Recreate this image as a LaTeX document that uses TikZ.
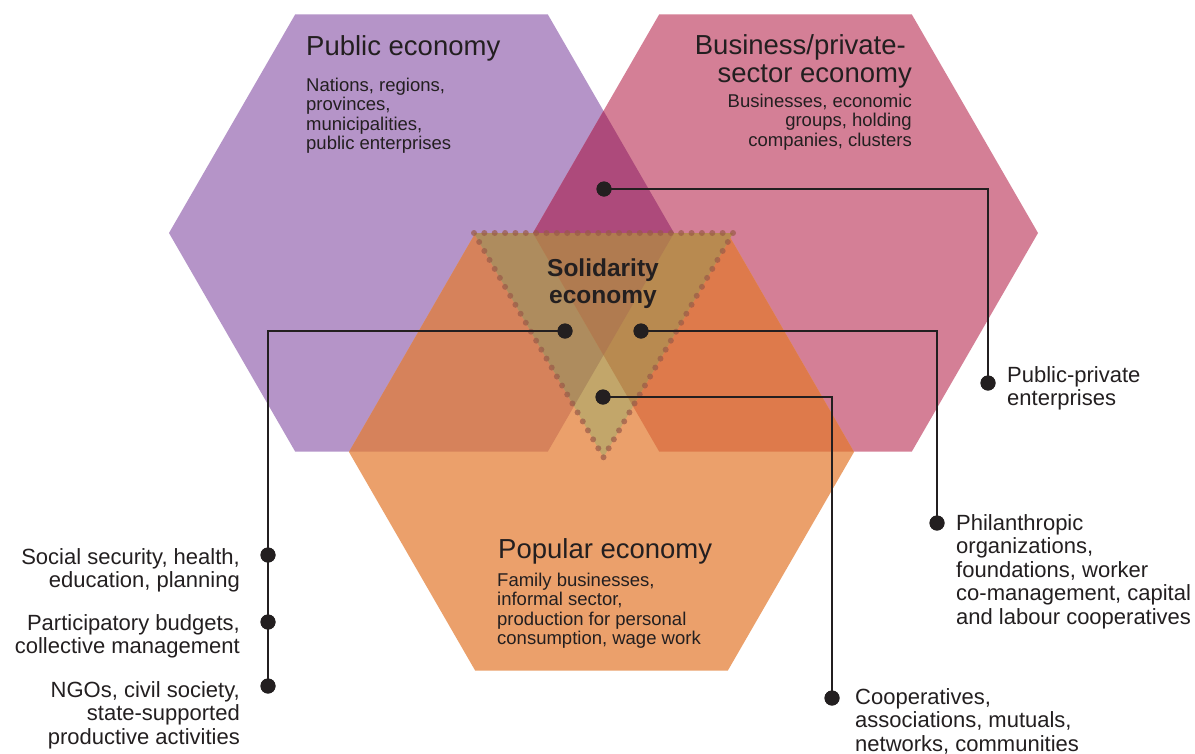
\documentclass[tikz,border=0pt]{standalone}
\usepackage{fontspec}
\setmainfont{Liberation Sans}
\definecolor{cP}{HTML}{B594C8}
\definecolor{cB}{HTML}{D47F96}
\definecolor{cO}{HTML}{EBA06B}
\definecolor{cPB}{HTML}{AD4A7B}
\definecolor{cPO}{HTML}{D6825B}
\definecolor{cBO}{HTML}{DE7A4B}
\definecolor{tO}{HTML}{C2A66A}
\definecolor{tPO}{HTML}{AE8C5E}
\definecolor{tBO}{HTML}{B88A50}
\definecolor{tPBO}{HTML}{B07B50}
\definecolor{dotc}{HTML}{9A5A48}
\definecolor{ink}{HTML}{231F20}
\newcommand\hexat[2]{(#1-252.5,#2) -- (#1-126.25,#2-218.7) -- (#1+126.25,#2-218.7) -- (#1+252.5,#2) -- (#1+126.25,#2+218.7) -- (#1-126.25,#2+218.7) -- cycle}
\newcommand\soltri{(474,233) -- (733,233) -- (603.5,457.3) -- cycle}
\begin{document}
\begin{tikzpicture}[x=1pt,y=-1pt,
  conn/.style={draw=ink,line width=2pt},
  blob/.style={circle,fill=ink,inner sep=0pt,minimum size=15pt},
  head/.style={inner sep=0pt,text=ink,font=\fontsize{27.5}{28.5}\selectfont},
  hbody/.style={inner sep=0pt,text=ink,font=\fontsize{18.5}{19.5}\selectfont},
  lab/.style={inner sep=0pt,text=ink,font=\fontsize{22}{23.5}\selectfont},
  dotline/.style={draw=dotc,draw opacity=0.7,line width=6pt,line cap=round,dash pattern=on 0pt off 10.36pt}]
\useasboundingbox (0,0) rectangle (1195,753);
\fill[white] (0,0) rectangle (1195,753);
% hexagons
\fill[cP] \hexat{421.5}{233};
\fill[cB] \hexat{785.5}{233};
\fill[cO] \hexat{601.5}{452};
\begin{scope}
  \clip \hexat{421.5}{233};
  \fill[cPB] \hexat{785.5}{233};
  \fill[cPO] \hexat{601.5}{452};
\end{scope}
\begin{scope}
  \clip \hexat{785.5}{233};
  \fill[cBO] \hexat{601.5}{452};
\end{scope}
% solidarity triangle
\begin{scope}
  \clip \soltri;
  \fill[tO] (0,0) rectangle (1195,753);
  \begin{scope}
    \clip \hexat{421.5}{233};
    \fill[tPO] (0,0) rectangle (1195,753);
  \end{scope}
  \begin{scope}
    \clip \hexat{785.5}{233};
    \fill[tBO] (0,0) rectangle (1195,753);
    \clip \hexat{421.5}{233};
    \fill[tPBO] (0,0) rectangle (1195,753);
  \end{scope}
\end{scope}
\draw[dotline] \soltri;
% texts in hexagons
\node[head,anchor=north west] (tpub) at (306,35) {Public economy};
\node[hbody,anchor=north west,align=left] (tpubb) at (306,77.5) {Nations, regions,\\provinces,\\municipalities,\\public enterprises};
\node[head,anchor=north east,align=right] (tbus) at (912,34) {Business/private-\hspace*{6pt}\\sector economy};
\node[hbody,anchor=north east,align=right] (tbusb) at (912,93.5) {Businesses, economic\\groups, holding\\companies, clusters};
\node[head,anchor=north west] (tpop) at (498,538) {Popular economy};
\node[hbody,anchor=north west,align=left] (tpopb) at (497,572.5) {Family businesses,\\informal sector,\\production for personal\\consumption, wage work};
\node[inner sep=0pt,text=ink,anchor=north,align=center,font=\bfseries\fontsize{24.5}{26.5}\selectfont] (tsol) at (603,259) {Solidarity\\economy};
% dots
\node[blob] (dPB) at (604,189) {};
\node[blob] (dL) at (565,331) {};
\node[blob] (dR) at (641,331) {};
\node[blob] (dB) at (603,397) {};
\node[blob] (dPP) at (988,383) {};
\node[blob] (dPh) at (937,523) {};
\node[blob] (dCo) at (832,698) {};
\node[blob] (dL1) at (268,555) {};
\node[blob] (dL2) at (268,622) {};
\node[blob] (dL3) at (268,686) {};
% connectors
\draw[conn] (dPB.center) -| (dPP.center);
\draw[conn] (dR.center) -| (dPh.center);
\draw[conn] (dB.center) -| (dCo.center);
\draw[conn] (dL.center) -| (dL3.center);
\foreach \d in {dPB,dL,dR,dB,dPP,dPh,dCo,dL1,dL2,dL3} \fill[ink] (\d) circle (7.5pt);
% outer labels
\node[lab,anchor=north west,align=left] (lPP) at (1007,366) {Public-private\\enterprises};
\node[lab,anchor=north west,align=left] (lPh) at (956,514) {Philanthropic\\organizations,\\foundations, worker\\co-management, capital\\and labour cooperatives};
\node[lab,anchor=north west,align=left] (lCo) at (855,688) {Cooperatives,\\associations, mutuals,\\networks, communities};
\node[lab,anchor=north east,align=right] (lL1) at (240,548) {Social security, health,\\education, planning};
\node[lab,anchor=north east,align=right] (lL2) at (240,614) {Participatory budgets,\\collective management};
\node[lab,anchor=north east,align=right] (lL3) at (240,681) {NGOs, civil society,\\state-supported\\productive activities};
\end{tikzpicture}
\end{document}
